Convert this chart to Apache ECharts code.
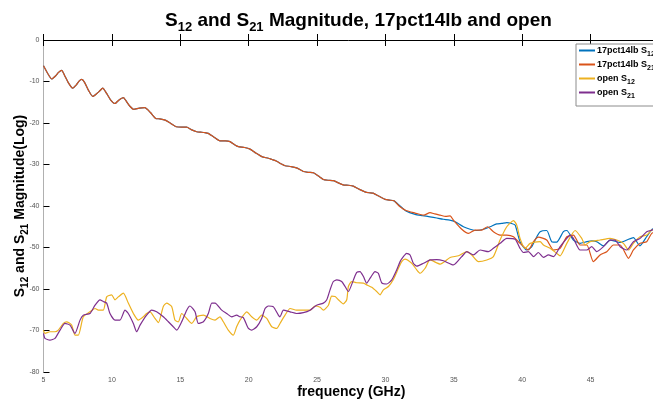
<!DOCTYPE html>
<html><head><meta charset="utf-8">
<script src="https://cdn.jsdelivr.net/npm/echarts@6/dist/echarts.min.js"></script>
<style>html,body{margin:0;padding:0;background:#fff}#c{width:653px;height:403px}</style>
</head><body><div id="c"></div><script>
// ---- data (frequency GHz, magnitude dB) ----
const seriesNames = ['17pct14lb S12', '17pct14lb S21', 'open S12', 'open S21'];
const xTicks = [5, 10, 15, 20, 25, 30, 35, 40, 45];
const yTicks = [-80, -70, -60, -50, -40, -30, -20, -10, 0];

// shared part of the two 17pct14lb traces (they overlap up to ~30.6 GHz)
const freqCommon = [5.0,5.3,5.6,5.9,6.1,6.33,6.55,6.8,7.13,7.4,7.6,7.8,8.0,8.3,8.6,8.9,9.1,9.33,9.6,9.9,10.23,10.5,10.84,11.0,11.3,11.6,12.0,12.4,12.8,13.2,13.5,13.9,14.3,14.7,15.1,15.47,15.8,16.2,16.5,16.8,17.05,17.5,17.9,18.3,18.64,19.0,19.25,19.7,20.1,20.5,20.96,21.44,21.7,22.05,22.4,22.66,23.1,23.5,24.0,24.4,24.73,25.1,25.46,25.8,26.2,26.6,26.9,27.3,27.65,28.1,28.5,28.8,29.1,29.5,29.97,30.3,30.6];
const magCommon = [-6.2,-8.0,-9.4,-8.6,-7.8,-7.3,-8.6,-10.2,-11.6,-10.8,-9.9,-9.5,-10.2,-12.2,-13.6,-12.9,-12.3,-11.6,-12.8,-14.4,-15.3,-14.5,-13.9,-14.5,-15.9,-16.7,-16.4,-16.3,-17.4,-18.9,-19.0,-19.3,-20.1,-20.9,-21.0,-21.0,-21.6,-22.1,-22.2,-22.3,-22.5,-23.5,-24.3,-24.3,-24.5,-25.3,-25.7,-25.9,-26.3,-27.2,-28.1,-28.5,-28.8,-29.2,-29.9,-30.3,-30.5,-30.8,-31.7,-31.9,-32.0,-32.8,-33.6,-33.8,-33.9,-34.5,-34.9,-35.0,-35.2,-36.0,-36.6,-36.8,-36.9,-37.6,-38.4,-38.6,-38.7];

// 17pct14lb S12 beyond 30.6 GHz
const freqS12Tail = [31.07,31.5,32.17,32.7,33.26,33.75,34.24,34.7,35.09,35.7,36.19,36.68,37.16,37.65,38.14,38.5,38.87,39.2,39.48,39.84,40.33,40.7,41.0,41.31,41.79,42.16,42.52,43.01,43.26,43.74,44.23,44.72,45.1,45.45,45.94,46.43,47.16,47.65,48.13,48.6,49.1,49.5,50.0];
const magS12Tail = [-40.0,-41.2,-42.0,-42.3,-42.6,-42.9,-43.2,-43.4,-43.8,-45.0,-45.6,-45.9,-45.6,-45.0,-44.3,-44.2,-44.0,-44.2,-44.6,-48.6,-50.6,-49.8,-47.8,-46.2,-45.9,-48.6,-48.7,-46.2,-45.9,-48.2,-49.0,-48.6,-48.4,-48.6,-49.6,-48.2,-48.8,-48.2,-47.6,-49.6,-47.4,-45.6,-45.2];

// 17pct14lb S21 beyond 30.6 GHz
const freqS21Tail = [31.07,31.5,32.17,32.8,33.26,33.6,34.0,34.4,34.73,34.97,35.58,36.07,36.55,37.04,37.46,37.89,38.38,38.87,39.36,39.84,40.45,40.82,41.18,41.79,42.28,42.77,43.26,43.74,44.23,44.72,45.2,45.69,46.18,46.67,47.16,47.77,48.13,48.62,49.1,49.47,50.0];
const magS21Tail = [-40.2,-41.1,-41.7,-42.2,-41.6,-41.9,-42.2,-42.5,-42.4,-43.4,-45.6,-46.6,-45.8,-45.8,-45.0,-46.2,-47.0,-47.0,-47.4,-49.0,-50.6,-48.6,-47.5,-48.2,-50.6,-50.2,-47.4,-47.0,-49.4,-49.4,-53.4,-51.8,-51.0,-49.4,-49.4,-52.6,-50.6,-49.0,-48.6,-46.6,-46.0];

// open S12
const freqOpenS12 = [5.0,5.11,5.47,5.84,6.08,6.45,6.69,7.06,7.3,7.55,7.91,8.4,8.77,9.01,9.37,9.62,9.98,10.23,10.47,10.84,11.2,11.57,11.93,12.3,12.54,12.79,13.15,13.4,13.76,14.0,14.37,14.61,14.86,15.1,15.47,15.83,16.2,16.69,17.17,17.54,17.9,18.15,18.51,18.88,19.12,19.37,19.86,20.22,20.59,20.95,21.32,21.69,22.05,22.29,22.66,23.03,23.51,24.0,24.49,24.85,25.22,25.46,25.83,26.07,26.32,26.56,26.92,27.17,27.29,27.53,27.9,28.39,28.63,29.0,29.36,29.61,29.85,30.22,30.58,30.95,31.19,31.43,31.92,32.29,32.53,32.9,33.26,34.0,34.73,35.34,35.95,36.31,36.8,37.41,37.89,38.38,38.87,39.36,39.6,39.84,40.21,40.58,41.31,41.55,42.04,42.52,42.77,43.26,43.87,44.35,44.6,44.96,45.69,46.42,46.91,47.4,47.77,48.13,48.62,49.1,49.47,50.0];
const magOpenS12 = [-69.9,-70.7,-70.3,-70.3,-69.9,-68.3,-67.9,-68.7,-71.1,-71.1,-66.7,-65.5,-64.7,-65.1,-65.1,-61.9,-61.4,-62.6,-61.9,-61.0,-63.4,-65.9,-67.5,-66.7,-65.9,-65.5,-67.1,-68.1,-64.2,-63.4,-64.2,-67.5,-67.9,-65.9,-67.1,-68.3,-66.7,-66.3,-67.1,-67.5,-66.7,-67.9,-69.9,-71.1,-69.1,-67.5,-65.5,-66.7,-67.5,-66.3,-67.1,-69.1,-69.5,-68.3,-66.3,-64.7,-65.1,-65.1,-65.1,-64.1,-64.4,-65.1,-63.9,-61.7,-61.8,-62.6,-63.6,-62.6,-59.4,-58.2,-58.5,-58.6,-59.0,-59.6,-60.6,-61.4,-60.2,-59.4,-57.7,-55.0,-53.4,-52.8,-53.8,-55.4,-56.2,-55.0,-53.0,-54.0,-52.4,-52.0,-51.0,-51.8,-53.4,-53.0,-52.2,-48.2,-45.0,-43.5,-44.6,-47.8,-50.2,-49.0,-48.6,-49.4,-50.2,-51.4,-52.0,-49.0,-45.9,-47.8,-49.4,-48.6,-48.2,-47.8,-48.2,-49.0,-50.6,-49.0,-47.4,-47.0,-45.8,-45.3];

// open S21
const freqOpenS21 = [5.0,5.11,5.47,5.84,6.21,6.57,6.94,7.3,7.67,7.91,8.4,8.77,9.13,9.37,9.62,9.86,10.23,10.59,10.96,11.2,11.57,11.81,12.06,12.54,12.91,13.27,13.76,14.13,14.49,14.74,15.1,15.47,15.71,16.08,16.32,16.69,17.05,17.3,17.54,18.03,18.39,18.76,19.12,19.37,19.61,19.98,20.22,20.59,20.95,21.2,21.44,21.81,22.17,22.29,22.54,23.03,23.51,24.0,24.49,24.97,25.46,25.71,25.95,26.19,26.44,26.8,27.05,27.29,27.66,27.9,28.14,28.39,28.63,28.88,29.24,29.48,29.73,30.09,30.46,30.82,31.07,31.31,31.55,31.8,32.04,32.29,32.78,33.26,33.75,34.24,34.97,35.58,35.95,36.43,36.92,37.53,37.89,38.38,38.87,39.48,39.84,40.09,40.45,40.82,41.18,41.55,41.92,42.28,42.77,43.26,43.5,43.74,44.23,44.72,45.08,45.45,45.94,46.42,46.79,47.16,47.65,48.13,48.62,49.1,49.47,50.0];
const magOpenS21 = [-70.7,-71.9,-72.3,-71.9,-69.9,-68.3,-68.7,-70.7,-67.5,-66.3,-65.9,-63.9,-62.6,-63.0,-63.4,-65.9,-67.5,-67.5,-65.1,-65.9,-68.3,-70.3,-68.7,-66.3,-65.1,-65.5,-66.7,-67.9,-69.1,-69.9,-67.9,-65.1,-64.1,-65.5,-68.3,-67.9,-65.9,-63.4,-63.4,-65.1,-65.9,-66.7,-66.3,-66.7,-66.9,-69.5,-69.9,-69.1,-67.1,-64.7,-64.1,-64.3,-66.3,-66.7,-65.1,-65.5,-65.9,-65.7,-65.1,-63.9,-63.4,-62.6,-60.2,-58.2,-57.8,-58.2,-59.4,-60.6,-57.8,-56.0,-55.8,-57.0,-58.6,-57.4,-55.8,-56.2,-58.5,-58.8,-57.8,-55.4,-53.4,-52.2,-51.4,-51.8,-53.8,-54.5,-53.8,-53.0,-52.9,-53.2,-54.2,-52.2,-51.0,-51.8,-50.6,-51.0,-50.2,-49.0,-47.8,-48.0,-50.2,-51.2,-51.0,-52.2,-51.2,-52.4,-51.8,-52.2,-49.8,-47.8,-47.0,-47.8,-50.6,-50.6,-49.8,-51.0,-49.8,-48.2,-48.2,-49.8,-50.6,-48.6,-47.8,-46.2,-45.8,-45.2];

// ---- build chart ----
const pairs = (f, m) => f.map((x, i) => [x, m[i]]);
const FONT = 'Liberation Sans, Arial, sans-serif';
const colors = ['#0072BD', '#D95319', '#EDB120', '#7E2F8E'];
const seriesData = [
  pairs(freqCommon.concat(freqS12Tail), magCommon.concat(magS12Tail)),
  pairs(freqCommon.concat(freqS21Tail), magCommon.concat(magS21Tail)),
  pairs(freqOpenS12, magOpenS12),
  pairs(freqOpenS21, magOpenS21)
];

function richSub(main, sub) {
  return {
    m: { fontSize: main, fontWeight: 'bold', fontFamily: FONT, color: '#000', lineHeight: main, verticalAlign: 'top' },
    s: { fontSize: sub, fontWeight: 'bold', fontFamily: FONT, color: '#000', lineHeight: sub, verticalAlign: 'top', padding: [Math.round(main * 0.52), 0, 0, 0] }
  };
}
function subName(name) {
  const mm = name.match(/^(.*S)(\d\d)(.*)$/);
  return '{m|' + mm[1] + '}{s|' + mm[2] + '}' + (mm[3] ? '{m|' + mm[3] + '}' : '');
}

const chart = echarts.init(document.getElementById('c'), null, { renderer: 'canvas' });
chart.setOption({
  animation: false,
  backgroundColor: '#fff',
  color: colors,
  title: {
    text: '{m|S}{s|12}{m| and S}{s|21}{m| Magnitude, 17pct14lb and open}',
    left: 165, top: 11, padding: 0,
    textStyle: { rich: richSub(19, 13) }
  },
  legend: {
    orient: 'vertical', left: 576, top: 44,
    padding: [2, 4, 6, 3], itemGap: 2,
    itemWidth: 16, itemHeight: 2, icon: 'rect',
    borderColor: '#8c8c8c', borderWidth: 1, backgroundColor: '#fff',
    data: seriesNames,
    formatter: subName,
    textStyle: { padding: [0, 0, 0, -3], rich: richSub(9, 7) }
  },
  grid: { left: 43.5, right: -6, top: 40, bottom: 31, containLabel: false, outerBoundsMode: 'none' },
  xAxis: [{
    type: 'value', min: xTicks[0], max: 50, interval: 5,
    name: 'frequency (GHz)', nameLocation: 'middle', nameGap: 13, nameMoveOverlap: false,
    nameTextStyle: { fontSize: 14, fontWeight: 'bold', fontFamily: FONT, color: '#000' },
    axisLine: { show: true, lineStyle: { color: '#b0b0b0', width: 1 } },
    axisTick: { show: true, inside: true, length: 6, lineStyle: { color: '#000' } },
    axisLabel: { fontSize: 7, color: '#555', fontFamily: FONT, margin: 5, showMaxLabel: false },
    splitLine: { show: false }
  }, {
    type: 'value', position: 'top', min: xTicks[0], max: 50, interval: 5,
    axisLine: { show: true, lineStyle: { color: '#000', width: 1 } },
    axisTick: { show: true, inside: true, length: 6, lineStyle: { color: '#000' } },
    axisLabel: { show: false }, splitLine: { show: false }
  }],
  yAxis: {
    type: 'value', min: yTicks[0], max: yTicks[yTicks.length - 1], interval: 10,
    name: '{m|S}{s|12}{m| and S}{s|21}{m| Magnitude(Log)}',
    nameLocation: 'middle', nameGap: 16, nameMoveOverlap: false,
    nameTextStyle: { rich: richSub(14, 10) },
    axisLine: { show: true, lineStyle: { color: '#b0b0b0', width: 1 } },
    axisTick: { show: true, inside: true, length: 6, lineStyle: { color: '#000' } },
    axisLabel: { fontSize: 7, color: '#555', fontFamily: FONT, margin: 4 },
    splitLine: { show: false }
  },
  series: seriesNames.map((n, i) => ({
    name: n, type: 'line', xAxisIndex: 0, data: seriesData[i],
    showSymbol: false, symbol: 'none', smooth: 0.2, z: 2 + i,
    lineStyle: { width: 1.2, color: colors[i] }, itemStyle: { color: colors[i] }
  }))
});
</script></body></html>
